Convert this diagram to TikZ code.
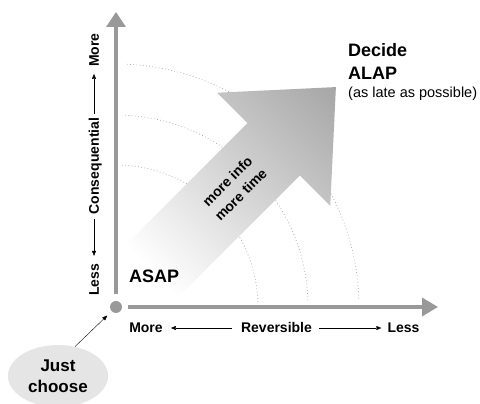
\documentclass[tikz,border=0pt]{standalone}
\usepackage{fontspec}
\setsansfont{Liberation Sans}
\usetikzlibrary{arrows.meta,shapes,positioning}
\definecolor{axisgray}{gray}{0.6}
\tikzset{
  basic/.style   = {font=\sffamily\bfseries, inner sep=0pt},
  big/.style     = {basic, font=\sffamily\bfseries\fontsize{18}{23}\selectfont},
  axislabel/.style = {basic, font=\sffamily\bfseries\fontsize{14}{16}\selectfont,
                   text height=10pt, text depth=0pt},
  axis/.style    = {draw=axisgray, line width=3.5pt},
  pointer/.style = {draw, thin, -{Triangle[length=5pt,width=4pt]}},
  ring/.style    = {gray!70, line width=0.7pt, dash pattern=on 0.8pt off 2.4pt}
}

\begin{document}
\begin{tikzpicture}[x=1pt,y=1pt]
\useasboundingbox (-116,-97) rectangle (364,307);
% rings
\foreach \r in {142,192,243}
  \draw[ring] (2:\r pt) arc[start angle=2, end angle=88, radius=\r pt];
% big arrow
\begin{scope}[transform canvas={rotate=45}]
  \shade[left color=white, middle color=gray!40, right color=gray!70]
    (50,-37) -- (223,-37) -- (223,-80) -- (311,0) -- (223,80) -- (223,37) -- (50,37) -- cycle;
\end{scope}
\node[basic, rotate=45, align=center, font=\sffamily\bfseries\fontsize{14}{19}\selectfont]
  (info) at (118,119) {more info\\more time};
% axes
\draw[axis, -{Triangle[length=15pt,width=19pt]}] (0,13) -- (0,295);
\draw[axis, -{Triangle[length=16pt,width=18pt]}] (12,0) -- (322,0);
\node[circle, fill=axisgray, minimum size=12pt, inner sep=0pt] (dot) at (0,0) {};
% axis labels
\node[axislabel, rotate=90] (moreY) at (-22,257) {More};
\node[axislabel, rotate=90] (consY) at (-22,141) {Consequential};
\node[axislabel, rotate=90] (lessY) at (-22,27) {Less};
\draw[pointer, shorten <=4pt, shorten >=7pt] (consY) -- (moreY);
\draw[pointer, shorten <=5pt, shorten >=8pt] (consY) -- (lessY);
\node[axislabel] (moreX) at (30,-21) {More};
\node[axislabel] (revX) at (160.5,-21) {Reversible};
\node[axislabel] (lessX) at (287.5,-21) {Less};
\draw[pointer, shorten <=9pt, shorten >=8pt] (revX) -- (moreX);
\draw[pointer, shorten <=7pt, shorten >=6pt] (revX) -- (lessX);
% texts
\node[big, anchor=base west] (asap) at (13,24) {ASAP};
\node[big, anchor=base west] (decide) at (232,250) {Decide};
\node[big, anchor=base west] (alap) at (232,227) {ALAP};
\node[basic, anchor=base west, font=\sffamily\fontsize{14.5}{17}\selectfont]
  (late) at (232,209.5) {(as late as possible)};
\node[basic, ellipse, fill=gray!20, minimum width=100pt, minimum height=62pt, align=center,
  font=\sffamily\bfseries\fontsize{17}{21}\selectfont] (choose) at (-58,-69) {Just\\choose};
\draw[pointer, shorten >=6pt] (choose.60) -- (dot.225);
\end{tikzpicture}
\end{document}
